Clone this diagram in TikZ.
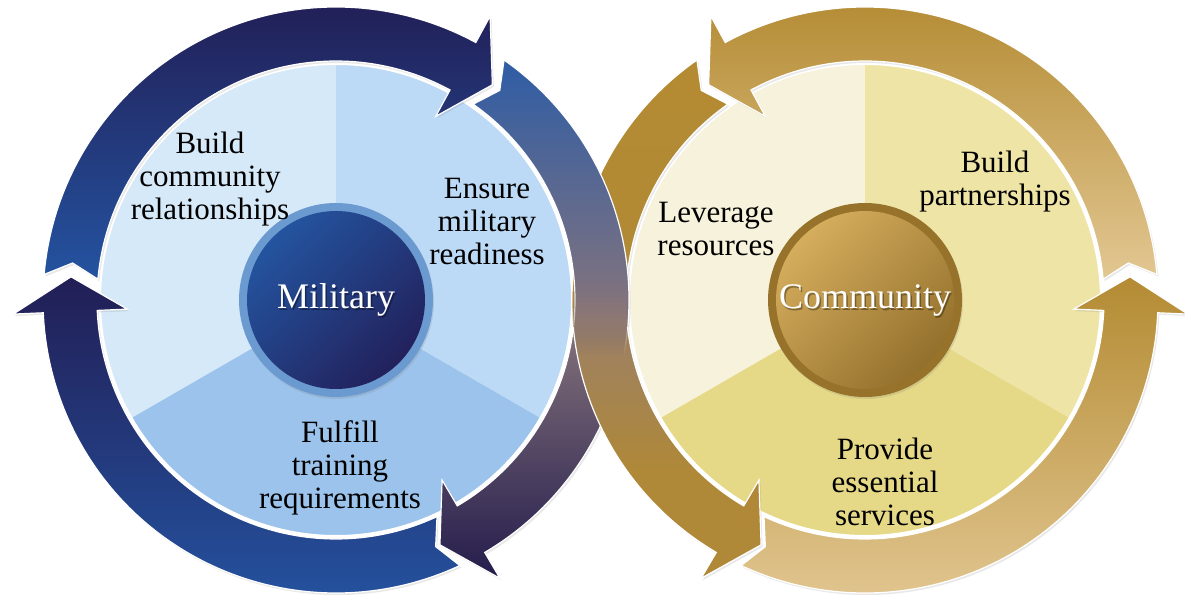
\documentclass[tikz,border=0pt]{standalone}
\usepackage{fontspec}
\setmainfont{Liberation Serif}
\usetikzlibrary{shadows,fadings}
\definecolor{pLa}{HTML}{D6E9F8}
\definecolor{pLb}{HTML}{BCDAF6}
\definecolor{pLc}{HTML}{9CC3EB}
\definecolor{pRa}{HTML}{F7F2DB}
\definecolor{pRb}{HTML}{EEE4A6}
\definecolor{pRc}{HTML}{E5D886}
\definecolor{navy}{HTML}{221E55}
\definecolor{blueA}{HTML}{2453A0}
\definecolor{blueB}{HTML}{2F5DA5}
\definecolor{mauve}{HTML}{86747C}
\definecolor{darkp}{HTML}{241C4C}
\definecolor{gold}{HTML}{B48B33}
\definecolor{goldD}{HTML}{AF8838}
\definecolor{goldL}{HTML}{E2C792}
\definecolor{mixA}{HTML}{8C7876}
\definecolor{mixB}{HTML}{A0825C}
\definecolor{ringB}{HTML}{6B9AD0}
\definecolor{milA}{HTML}{24549F}
\definecolor{milB}{HTML}{22215C}
\definecolor{ringG}{HTML}{97722A}
\definecolor{comA}{HTML}{D5AD5D}
\definecolor{comB}{HTML}{93702C}
\tikzfading[name=cyfade, top color=transparent!100, bottom color=transparent!0]
\newcommand\cysetarr[3]{%
  \pgfmathsetmacro\cyT{#1}%
  \pgfmathsetmacro\cyH{#2}%
  \pgfmathsetmacro\cyB{#2-(#3)*7.5}%
  \pgfmathsetmacro\cyN{#1+(#3)*3}}
\newcommand\cyarr{(\cyT:293) arc[start angle=\cyT, end angle=\cyB, radius=293] -- (\cyB:323) -- (\cyH:266) -- (\cyB:209) -- (\cyB:239) arc[start angle=\cyB, end angle=\cyT, radius=239] -- (\cyN:266) -- cycle}
\tikzset{
  arrowband/.style={draw=white, line width=1.2pt, line join=miter,
    drop shadow={opacity=0.18, shadow xshift=1.5pt, shadow yshift=-2pt}},
  pieedge/.style={draw=white, line width=2pt},
  lbl/.style={align=center, font=\fontsize{31pt}{33pt}\selectfont, text=black, inner sep=0pt},
  ctr/.style={font=\fontsize{36pt}{40pt}\selectfont, text=white, inner sep=0pt},
  ctrshadow/.style={font=\fontsize{36pt}{40pt}\selectfont, text=black, opacity=0.35, inner sep=0pt}
}
\begin{document}
\begin{tikzpicture}[x=1pt, y=1pt]
\useasboundingbox (0,0) rectangle (1185,599);
\clip (0,0) rectangle (1185,599);
% ---------- left pie ----------
\begin{scope}[shift={(336,299)}]
  \fill[pLa] (0,0) -- (90:236) arc[start angle=90, end angle=210, radius=236] -- cycle;
  \fill[pLb] (0,0) -- (-30:236) arc[start angle=-30, end angle=90, radius=236] -- cycle;
  \fill[pLc] (0,0) -- (210:236) arc[start angle=210, end angle=330, radius=236] -- cycle;
  \draw[pieedge] (0,0) circle[radius=236];
\end{scope}
% ---------- right pie ----------
\begin{scope}[shift={(865,299)}]
  \fill[pRa] (0,0) -- (90:236) arc[start angle=90, end angle=210, radius=236] -- cycle;
  \fill[pRb] (0,0) -- (-30:236) arc[start angle=-30, end angle=90, radius=236] -- cycle;
  \fill[pRc] (0,0) -- (210:236) arc[start angle=210, end angle=330, radius=236] -- cycle;
  \draw[pieedge] (0,0) circle[radius=236];
\end{scope}
% ---------- centre circles ----------
\node[circle, fill=ringB, minimum size=194pt, inner sep=0pt,
  drop shadow={opacity=0.2, shadow xshift=1pt, shadow yshift=-2pt}] (milring) at (336,299) {};
\node[circle, minimum size=178pt, inner sep=0pt, top color=milA, bottom color=milB, shading angle=45] (mil) at (milring.center) {};
\node[circle, fill=ringG, minimum size=194pt, inner sep=0pt,
  drop shadow={opacity=0.2, shadow xshift=1pt, shadow yshift=-2pt}] (comring) at (865,299) {};
\node[circle, minimum size=178pt, inner sep=0pt, top color=comA, bottom color=comB, shading angle=45] (com) at (comring.center) {};
% ---------- right circle arrows (counter-clockwise) ----------
\begin{scope}[shift={(865,299)}]
  \cysetarr{125}{247}{1}
  \path[arrowband, top color=gold, bottom color=goldD] \cyarr;
  \cysetarr{5}{126}{1}
  \path[arrowband, top color=gold, bottom color=goldL] \cyarr;
  \cysetarr{245}{365}{1}
  \path[arrowband, top color=gold, bottom color=goldL] \cyarr;
\end{scope}
% ---------- left circle arrows (clockwise) ----------
\begin{scope}[shift={(336,299)}]
  \cysetarr{175}{54}{-1}
  \path[arrowband, top color=navy, bottom color=blueA] \cyarr;
  \cysetarr{-65}{-185}{-1}
  \path[arrowband, top color=navy, bottom color=blueA] \cyarr;
  \cysetarr{55}{-67}{-1}
  \path[arrowband, top color=blueB, bottom color=darkp, middle color=mauve] \cyarr;
\end{scope}
% ---------- interwoven crossing: gold over blue in the lower half ----------
\begin{scope}[shift={(865,299)}]
  \cysetarr{125}{247}{1}
  \begin{scope}
    \clip (-330,19) rectangle (-130,-320);
    \clip \cyarr;
    \shade[top color=mixA, bottom color=mixB, path fading=cyfade] (-330,19) rectangle (-130,-56);
    \shade[top color=mixB, bottom color=goldD] (-330,-56) rectangle (-130,-171);
    \fill[goldD] (-330,-171) rectangle (-130,-320);
  \end{scope}
  \begin{scope}
    \clip (-330,-28) rectangle (-130,-320);
    \draw[white, line width=1.2pt] \cyarr;
  \end{scope}
\end{scope}
% ---------- centre texts ----------
\node[ctrshadow] at ([xshift=1.5pt, yshift=-2pt]mil.center) {Military};
\node[ctr] (miltext) at (mil.center) {Military};
\node[ctrshadow] at ([xshift=1.5pt, yshift=-2pt]com.center) {Community};
\node[ctr] (comtext) at (com.center) {Community};
% ---------- labels ----------
\node[lbl] (l1) at (210,420) {Build\\community\\relationships};
\node[lbl] (l2) at (487,377) {Ensure\\military\\readiness};
\node[lbl] (l3) at (340,131) {Fulfill\\training\\requirements};
\node[lbl] (r1) at (716,370) {Leverage\\resources};
\node[lbl] (r2) at (995,417) {Build\\partnerships};
\node[lbl] (r3) at (885,117) {Provide\\essential\\services};
\end{tikzpicture}
\end{document}
